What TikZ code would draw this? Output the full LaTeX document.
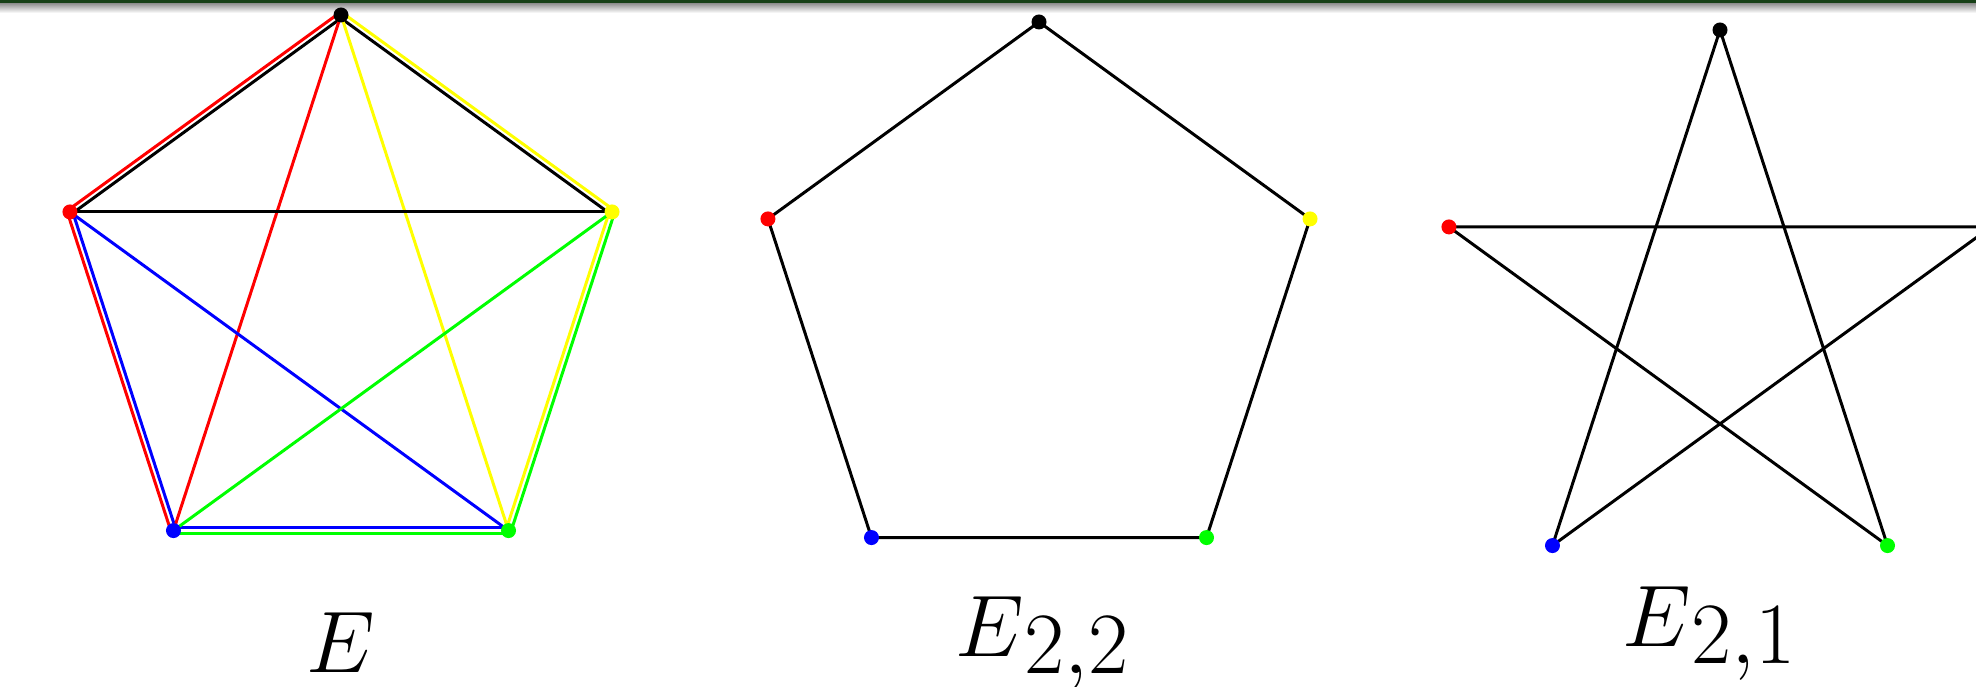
\documentclass[tikz,border=0pt]{standalone}
\usepackage{amsmath}
\usepackage{tikz}
\usetikzlibrary{calc}

\definecolor{barGreen}{RGB}{22,64,22}
\definecolor{vRed}{RGB}{255,0,0}
\definecolor{vYellow}{RGB}{255,255,0}
\definecolor{vGreen}{RGB}{0,255,0}
\definecolor{vBlue}{RGB}{0,0,255}

\tikzset{
    edge/.style={line width=0.85pt},
    vdot/.style={circle, fill=#1, inner sep=0pt, minimum size=0.15cm},
    lbl/.style={font=\fontsize{33}{40}\selectfont, inner sep=0pt}
}

% two parallel copies of one pentagon side
\newcommand{\dbl}[4]{%
    \draw[edge, #3] ($(#1)!0.026cm!90:(#2)$) -- ($(#2)!0.026cm!-90:(#1)$);
    \draw[edge, #4] ($(#1)!0.026cm!-90:(#2)$) -- ($(#2)!0.026cm!90:(#1)$);
}
% subscript, dropped by a fixed amount
\newcommand{\lowsub}[1]{\lower0.17cm\hbox{$\scriptstyle #1$}}

\begin{document}
\begin{tikzpicture}

    \useasboundingbox (0,0) rectangle (19.76,6.87);

    % 0. Bar along the top
    \shade[top color=black!45, bottom color=white] (0,6.84) rectangle (19.76,6.74);
    \fill[barGreen] (0,6.87) rectangle (19.76,6.84);

    % 1. The five corners of each pentagon
    \foreach \p/\cx/\cy in {a/3.41/3.87, b/10.39/3.80, c/17.20/3.72} {
        \foreach \i/\ang in {1/90, 2/162, 3/234, 4/306, 5/18} {
            \coordinate (\p\i) at ($(\cx,\cy)+(\ang:2.85)$);
        }
    }

    % 2. Complete graph E, each colour a triangle
    \dbl{a1}{a2}{black}{vRed}
    \dbl{a2}{a3}{vBlue}{vRed}
    \dbl{a3}{a4}{vBlue}{vGreen}
    \dbl{a4}{a5}{vYellow}{vGreen}
    \dbl{a5}{a1}{black}{vYellow}
    \draw[edge, vRed] (a1) -- (a3);
    \draw[edge, vYellow] (a1) -- (a4);
    \draw[edge, black] (a2) -- (a5);
    \draw[edge, vBlue] (a2) -- (a4);
    \draw[edge, vGreen] (a5) -- (a3);

    % 3. The pentagon E_{2,2}
    \draw[edge] (b1) -- (b2) -- (b3) -- (b4) -- (b5) -- cycle;

    % 4. The star E_{2,1}
    \draw[edge] (c1) -- (c3) -- (c5) -- (c2) -- (c4) -- cycle;

    % 5. Coloured dots on the corners
    \foreach \p in {a,b,c} {
        \node[vdot=black] (\p1v) at (\p1) {};
        \node[vdot=vRed] (\p2v) at (\p2) {};
        \node[vdot=vBlue] (\p3v) at (\p3) {};
        \node[vdot=vGreen] (\p4v) at (\p4) {};
        \node[vdot=vYellow] (\p5v) at (\p5) {};
    }

    % 6. Names under the graphs
    \node[lbl, anchor=base] (nameE) at (3.41,0.14) {$E$};
    \node[lbl, anchor=base west] (nameB) at (9.55,0.30) {$E\lowsub{2,2}$};
    \node[lbl, anchor=base west] (nameC) at (16.22,0.40) {$E\lowsub{2,1}$};

\end{tikzpicture}
\end{document}
